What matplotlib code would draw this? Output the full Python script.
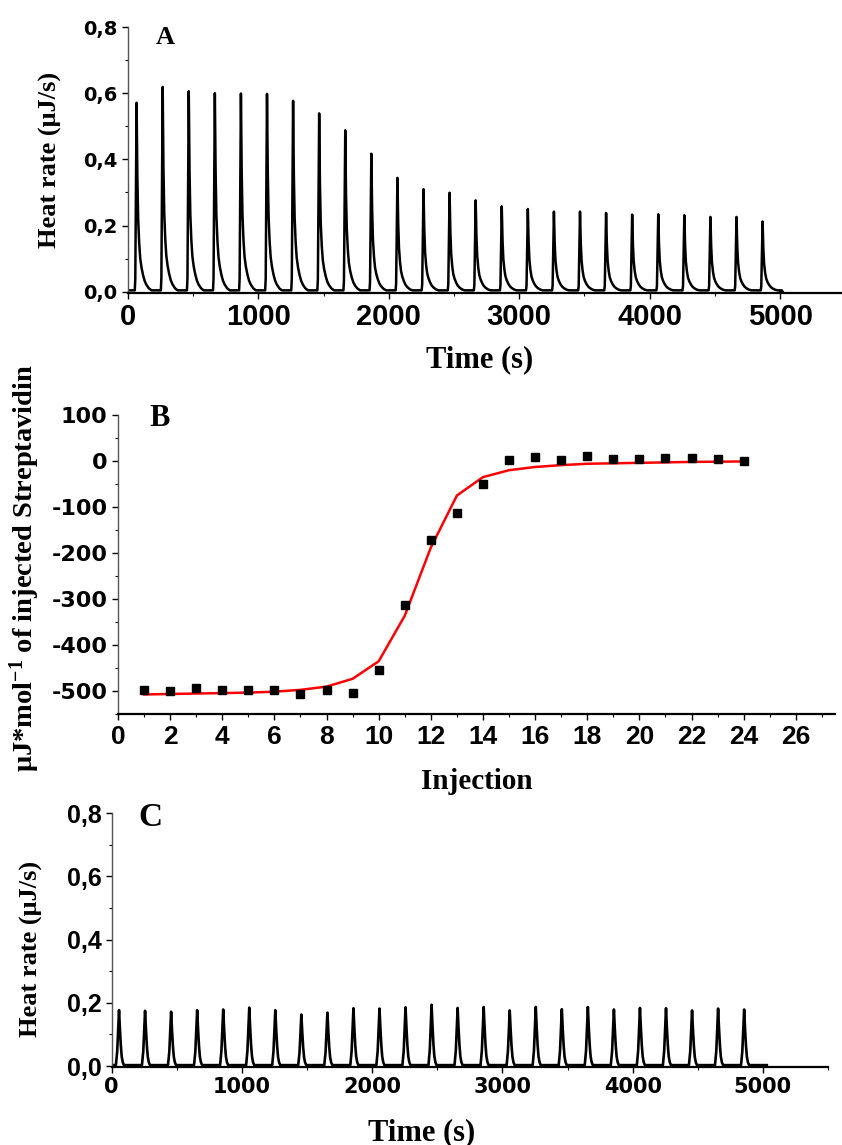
import numpy as np
import matplotlib.pyplot as plt
from matplotlib.ticker import MultipleLocator, FuncFormatter

plt.rcParams['mathtext.fontset'] = 'custom'
plt.rcParams['mathtext.rm'] = 'Liberation Serif:bold'
plt.rcParams['mathtext.bf'] = 'Liberation Serif:bold'
plt.rcParams['mathtext.it'] = 'Liberation Serif:bold'

# --- panel A: raw heat trace, streptavidin injections ---
a_first = 66          # s, time of first peak
a_step = 200          # s, spacing between injections
a_heights = [0.567, 0.615, 0.602, 0.596, 0.595, 0.594, 0.573, 0.535, 0.484, 0.413,
             0.340, 0.306, 0.295, 0.272, 0.254, 0.246, 0.238, 0.238, 0.234, 0.229,
             0.230, 0.227, 0.222, 0.222, 0.208]
a_base = 0.004
a_end = 5010
# shape of one peak: offset (s) -> fraction of peak height
a_shape_t = [-14, -10, 0, 6, 12, 20, 28, 38, 50, 62, 75, 95, 115]
a_shape_y = [0, 0.06, 1, 0.6, 0.38, 0.25, 0.17, 0.12, 0.08, 0.05, 0.03, 0.01, 0]

# --- panel B: integrated heats and fit ---
inj = list(range(1, 25))
heats = [-497, -500, -493, -497, -498, -498, -507, -497, -504, -453,
         -313, -172, -113, -49, 3, 8, 3, 10, 5, 5, 7, 7, 4, 0]
fit = [-507, -506, -505, -504, -503, -501, -497, -490, -473, -435,
       -336, -188, -75, -35, -20, -13, -9, -6, -5, -4, -3, -2, -1.5, -1]

# --- panel C: control trace ---
c_first = 56
c_step = 200
c_heights = [0.174, 0.172, 0.169, 0.174, 0.176, 0.182, 0.174, 0.160, 0.166, 0.180,
             0.179, 0.183, 0.191, 0.181, 0.184, 0.173, 0.184, 0.177, 0.184, 0.176,
             0.181, 0.180, 0.173, 0.179, 0.176]
c_base = 0.003
c_end = 5030
c_shape_t = [-24, -14, -6, 0, 7, 14, 21, 29, 38]
c_shape_y = [0, 0.25, 0.7, 1, 0.65, 0.35, 0.15, 0.05, 0]


def build_trace(first, step, heights, shape_t, shape_y, base, end):
    xs = [0]
    ys = [base]
    for i, h in enumerate(heights):
        t0 = first + i * step
        xs += [t0 + dt for dt in shape_t]
        ys += [base + h * f for f in shape_y]
    xs.append(end)
    ys.append(base)
    return np.array(xs), np.array(ys)


def comma(v, pos):
    return f'{v:.1f}'.replace('.', ',')


def hyphen(v, pos):
    return f'{v:.0f}'


def style(ax, xfont, xsize, yfont, ysize):
    ax.spines['top'].set_visible(False)
    ax.spines['right'].set_visible(False)
    ax.spines['left'].set_color('#555555')
    ax.spines['left'].set_linewidth(1.0)
    ax.spines['bottom'].set_linewidth(1.6)
    ax.tick_params(which='major', direction='out', length=4, width=1)
    ax.tick_params(which='minor', direction='out', length=2.5, width=0.8)
    for lab in ax.get_xticklabels():
        lab.set_fontfamily(xfont)
        lab.set_fontweight('bold')
        lab.set_fontsize(xsize)
    for lab in ax.get_yticklabels():
        lab.set_fontfamily(yfont)
        lab.set_fontweight('bold')
        lab.set_fontsize(ysize)


fig = plt.figure(figsize=(8.42, 11.45), dpi=100)
serif = dict(family='Liberation Serif', weight='bold')

# panel A
axA = fig.add_axes([0.152, 0.7441, 0.848, 0.2323])
xa, ya = build_trace(a_first, a_step, a_heights, a_shape_t, a_shape_y, a_base, a_end)
axA.plot(xa, ya, color='black', lw=1.8)
axA.plot([a_end], [0.0], 'o', color='black', ms=3)
axA.set_xlim(0, 5475)
axA.set_ylim(-0.004, 0.8)
axA.xaxis.set_major_locator(MultipleLocator(1000))
axA.xaxis.set_minor_locator(MultipleLocator(500))
axA.yaxis.set_major_locator(MultipleLocator(0.2))
axA.yaxis.set_minor_locator(MultipleLocator(0.1))
axA.yaxis.set_major_formatter(FuncFormatter(comma))
style(axA, 'Liberation Sans', 21, 'DejaVu Sans', 14)
axA.set_xlabel('Time (s)', fontsize=22, **serif)
axA.xaxis.set_label_coords(0.493, -0.195)
axA.set_ylabel('Heat rate (μJ/s)', fontsize=19, **serif)
axA.yaxis.set_label_coords(-0.092, 0.5)
fig.text(165 / 842, 1 - 37 / 1145, 'A', fontsize=19, ha='center', va='center', **serif)

# panel B
axB = fig.add_axes([0.1401, 0.3762, 0.8515, 0.2614])
axB.plot(inj, fit, color='red', lw=1.8, zorder=2)
axB.plot(inj, heats, 's', color='black', ms=6, zorder=3)
axB.set_xlim(0, 27.5)
axB.set_ylim(-550, 100)
axB.xaxis.set_major_locator(MultipleLocator(2))
axB.xaxis.set_minor_locator(MultipleLocator(1))
axB.yaxis.set_major_locator(MultipleLocator(100))
axB.yaxis.set_minor_locator(MultipleLocator(50))
axB.yaxis.set_major_formatter(FuncFormatter(hyphen))
style(axB, 'Liberation Sans', 19, 'DejaVu Sans', 16)
axB.set_xlabel('Injection', fontsize=21, **serif)
axB.xaxis.set_label_coords(0.5, -0.18)
axB.set_ylabel('μJ*mol$^{-1}$ of injected Streptavidin', fontsize=20.5, **serif)
axB.yaxis.set_label_coords(-0.106, 0.49)
fig.text(160 / 842, 1 - 418 / 1145, 'B', fontsize=22, ha='center', va='center', **serif)

# panel C
axC = fig.add_axes([0.1327, 0.0681, 0.8507, 0.2216])
xc, yc = build_trace(c_first, c_step, c_heights, c_shape_t, c_shape_y, c_base, c_end)
axC.plot(xc, yc, color='black', lw=1.9)
axC.set_xlim(0, 5500)
axC.set_ylim(-0.003, 0.8)
axC.xaxis.set_major_locator(MultipleLocator(1000))
axC.xaxis.set_minor_locator(MultipleLocator(500))
axC.yaxis.set_major_locator(MultipleLocator(0.2))
axC.yaxis.set_minor_locator(MultipleLocator(0.1))
axC.yaxis.set_major_formatter(FuncFormatter(comma))
style(axC, 'DejaVu Sans', 15, 'Liberation Sans', 18)
axC.set_xlabel('Time (s)', fontsize=22, **serif)
axC.xaxis.set_label_coords(0.433, -0.20)
axC.set_ylabel('Heat rate (μJ/s)', fontsize=19, **serif)
axC.yaxis.set_label_coords(-0.096, 0.465)
fig.text(150 / 842, 1 - 818 / 1145, 'C', fontsize=24, ha='center', va='center', **serif)

fig.savefig('out.png', dpi=100)
